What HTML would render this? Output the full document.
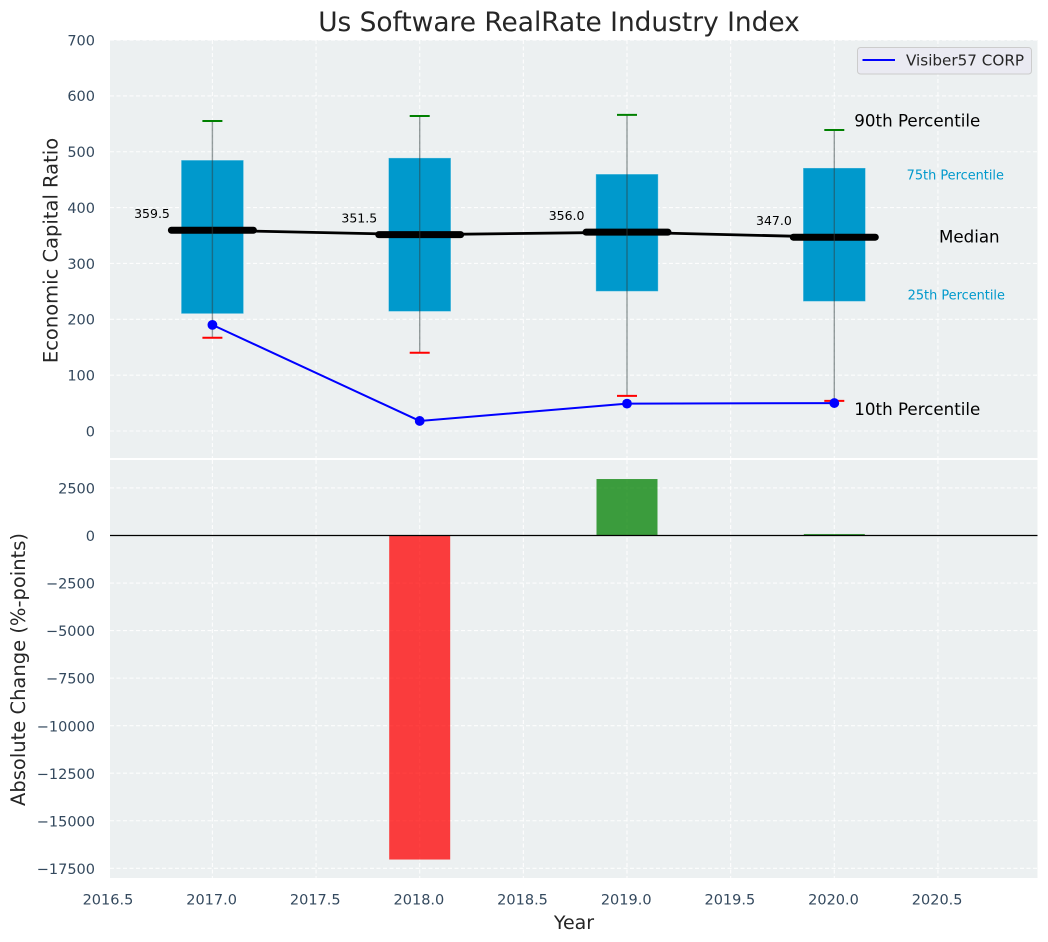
<!DOCTYPE html>
<html lang="en">
<head>
<meta charset="utf-8">
<title>Us Software RealRate Industry Index</title>
<style>
html,body{margin:0;padding:0;background:#fff;width:1048px;height:942px;overflow:hidden}
svg{display:block}
text{font-family:"DejaVu Sans","Liberation Sans",sans-serif}
</style>
</head>
<body>
<svg id="chart" xmlns="http://www.w3.org/2000/svg" width="1048" height="942" viewBox="0 0 1048 942"></svg>
<script>
const years = [2017, 2018, 2019, 2020];
const p90 = [555, 564, 566, 539];
const q3 = [485, 489, 460, 471];
const medians = [359.5, 351.5, 356.0, 347.0];
const q1 = [210, 214, 250, 232];
const p10 = [167, 140, 63, 54];
const companyValues = [190, 18, 49, 50];
const absoluteChange = [null, -17040, 2970, 80];
const xTicks = [2016.5, 2017, 2017.5, 2018, 2018.5, 2019, 2019.5, 2020, 2020.5];
const topYTicks = [0, 100, 200, 300, 400, 500, 600, 700];
const bottomYTicks = [2500, 0, -2500, -5000, -7500, -10000, -12500, -15000, -17500];
const companyName = "Visiber57 CORP";

const NS = "http://www.w3.org/2000/svg";
const svg = document.getElementById("chart");
const L = 110, R = 1037.5, T1 = 40, B1 = 458, T2 = 460, B2 = 878;
const x = v => 212.4 + (v - 2017) * 207.3;
const yTop = v => 431 - v * 0.5585;
const yBot = v => 535.5 - v * 0.019016;
const INK = "#262626", TICK = "#34495e", BOX = "#0099cc";
const TICK_SIZE = 14.5;

function make(tag, attrs, parent, text) {
  const el = document.createElementNS(NS, tag);
  for (const k in attrs) el.setAttribute(k, attrs[k]);
  if (text !== undefined) el.textContent = text;
  (parent || svg).appendChild(el);
  return el;
}
function fmtTick(v) {
  return v < 0 ? "\u2212" + Math.abs(v) : String(v);
}

// Panel backgrounds
const bg1 = make("rect", {x: L, y: T1, width: R - L, height: B1 - T1, fill: "#ecf0f1"});


const bg2 = make("rect", {x: L, y: T2, width: R - L, height: B2 - T2, fill: "#ecf0f1"});



// Grid and tick labels
const gridStyle = {stroke: "#ffffff", "stroke-width": 1.1, "stroke-dasharray": "4 2.5", opacity: 0.9};
xTicks.forEach(v => {
  const g1 = make("line", {x1: x(v), x2: x(v), y1: T1, y2: B1, ...gridStyle});
  
  
  const g2 = make("line", {x1: x(v), x2: x(v), y1: T2, y2: B2, ...gridStyle});
  
  
  const t = make("text", {x: x(v) - 0.8, y: 904.5, "text-anchor": "middle", "font-size": TICK_SIZE, fill: TICK}, svg, v.toFixed(1));
  
  
});
topYTicks.forEach(v => {
  const g = make("line", {x1: L, x2: R, y1: yTop(v), y2: yTop(v), ...gridStyle});
  
  
  const t = make("text", {x: 95, y: yTop(v) + 5.3, "text-anchor": "end", "font-size": TICK_SIZE, fill: TICK}, svg, fmtTick(v));
  
  
});
bottomYTicks.forEach(v => {
  const g = make("line", {x1: L, x2: R, y1: yBot(v), y2: yBot(v), ...gridStyle});
  
  
  const t = make("text", {x: 95, y: yBot(v) + 5.6, "text-anchor": "end", "font-size": TICK_SIZE, fill: TICK}, svg, fmtTick(v));
  
  
});

// Boxes
years.forEach((yr, i) => {
  const box = make("rect", {
    x: x(yr) - 31.2, y: yTop(q3[i]), width: 62.4, height: yTop(q1[i]) - yTop(q3[i]),
    fill: BOX, stroke: "#ffffff", "stroke-opacity": 0.35, "stroke-width": 1
  });
  
  
});

// Median connecting line
const medLine = make("polyline", {
  points: years.map((yr, i) => x(yr) + "," + yTop(medians[i])).join(" "),
  fill: "none", stroke: "#000", "stroke-width": 2.8
});



years.forEach((yr, i) => {
  const mb = make("line", {
    x1: x(yr) - 41, x2: x(yr) + 41, y1: yTop(medians[i]), y2: yTop(medians[i]),
    stroke: "#000", "stroke-width": 7, "stroke-linecap": "round"
  });
  
  

  const wh = make("line", {
    x1: x(yr), x2: x(yr), y1: yTop(p90[i]), y2: yTop(p10[i]),
    stroke: "#2f3f3f", "stroke-opacity": 0.5, "stroke-width": 1.4
  });
  
  

  const capHi = make("line", {
    x1: x(yr) - 10, x2: x(yr) + 10, y1: yTop(p90[i]), y2: yTop(p90[i]),
    stroke: "#008000", "stroke-width": 2
  });
  
  

  const capLo = make("line", {
    x1: x(yr) - 10, x2: x(yr) + 10, y1: yTop(p10[i]), y2: yTop(p10[i]),
    stroke: "#ff0000", "stroke-width": 2
  });
  
  

  const lbl = make("text", {
    x: x(yr) - 42.5, y: yTop(medians[i]) - 12, "text-anchor": "end", "font-size": 12.5, fill: "#000"
  }, svg, medians[i].toFixed(1));
  
  
});

// Company line
const compLine = make("polyline", {
  points: years.map((yr, i) => x(yr) + "," + yTop(companyValues[i])).join(" "),
  fill: "none", stroke: "#0000ff", "stroke-width": 2
});


years.forEach((yr, i) => {
  const pt = make("circle", {cx: x(yr), cy: yTop(companyValues[i]), r: 4.9, fill: "#0000ff"});
  
  
});

// Percentile annotations on the last year
const last = years.length - 1;
const xLast = x(years[last]);
const a90 = make("text", {x: xLast + 20, y: yTop(p90[last]) - 3.5, "font-size": 16.7, fill: "#000"}, svg, "90th Percentile");


const a75 = make("text", {x: xLast + 121, y: yTop(q3[last]) + 11.5, "text-anchor": "middle", "font-size": 12.9, fill: "#0099cc"}, svg, "75th Percentile");


const aMed = make("text", {x: xLast + 135, y: yTop(medians[last]) + 5.5, "text-anchor": "middle", "font-size": 16.7, fill: "#000"}, svg, "Median");


const a25 = make("text", {x: xLast + 122, y: yTop(q1[last]) - 2, "text-anchor": "middle", "font-size": 12.9, fill: "#0099cc"}, svg, "25th Percentile");


const a10 = make("text", {x: xLast + 20, y: yTop(p10[last]) + 14.3, "font-size": 16.7, fill: "#000"}, svg, "10th Percentile");



// Change bars
years.forEach((yr, i) => {
  const v = absoluteChange[i];
  if (v === null) return;
  const top = Math.min(yBot(v), yBot(0));
  const h = Math.abs(yBot(v) - yBot(0));
  const bar = make("rect", {
    x: x(yr) - 30.5, y: top, width: 61, height: h,
    fill: v >= 0 ? "#008000" : "#ff0000", "fill-opacity": 0.75
  });
  
  
});
const zero = make("line", {x1: L, x2: R, y1: yBot(0), y2: yBot(0), stroke: "#000", "stroke-width": 1.3});



// Title and axis titles
const title = make("text", {x: 559, y: 31, "text-anchor": "middle", "font-size": 26.4, fill: INK}, svg, "Us Software RealRate Industry Index");


const xt = make("text", {x: 574, y: 929, "text-anchor": "middle", "font-size": 19, fill: INK}, svg, "Year");


const yt1 = make("text", {transform: "translate(57.5 250.5) rotate(-90)", "text-anchor": "middle", "font-size": 19.5, fill: INK}, svg, "Economic Capital Ratio");


const yt2 = make("text", {transform: "translate(25 669.5) rotate(-90)", "text-anchor": "middle", "font-size": 19.5, fill: INK}, svg, "Absolute Change (%-points)");



// Legend
const legend = make("g", {});


const lb = make("rect", {x: 857.5, y: 47.5, width: 174, height: 26.5, rx: 3, fill: "#eaeaf2", stroke: "#cccccc", "stroke-width": 1}, legend);


const ls = make("line", {x1: 862.5, x2: 895, y1: 60, y2: 60, stroke: "#0000ff", "stroke-width": 2}, legend);


const lt = make("text", {x: 906, y: 65.5, "font-size": 15.2, fill: INK}, legend, companyName);


</script>
</body>
</html>
